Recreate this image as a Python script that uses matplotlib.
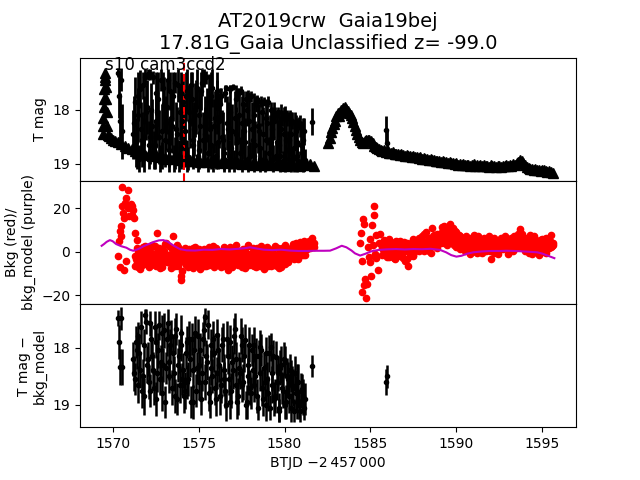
import matplotlib
matplotlib.use("Agg")
import matplotlib.pyplot as plt

# ---------------- detections (top: T mag, bottom: T mag - bkg_model) ----------------
t_det = [1570.33, 1570.37, 1570.41, 1570.50, 1570.55,
         1571.2, 1571.3, 1571.4, 1571.5, 1571.6, 1571.7, 1571.8, 1571.9, 1572.0, 1572.1,
         1572.2, 1572.3, 1572.4, 1572.5, 1572.6, 1572.7, 1572.8, 1572.9, 1573.0, 1573.1,
         1573.2, 1573.3, 1573.4, 1573.5, 1573.6, 1573.7, 1573.8, 1573.9, 1574.0, 1574.1,
         1574.2, 1574.3, 1574.4, 1574.5, 1574.6, 1574.7, 1574.8, 1574.9, 1575.0, 1575.1,
         1575.2, 1575.3, 1575.4, 1575.5, 1575.6, 1575.7, 1575.8, 1575.9, 1576.0, 1576.1,
         1576.2, 1576.3, 1576.4, 1576.5, 1576.6, 1576.7, 1576.8, 1576.9, 1577.0, 1577.1,
         1577.2, 1577.3, 1577.4, 1577.5, 1577.6, 1577.7, 1577.8, 1577.9, 1578.0, 1578.1,
         1578.2, 1578.3, 1578.4, 1578.5, 1578.6, 1578.7, 1578.8, 1578.9, 1579.0, 1579.1,
         1579.2, 1579.3, 1579.4, 1579.5, 1579.6, 1579.7, 1579.8, 1579.9, 1580.0, 1580.1,
         1580.2, 1580.3, 1580.4, 1580.5, 1580.6, 1580.7, 1580.8, 1580.9, 1581.0, 1581.1, 1581.2,
         1581.60, 1585.92, 1585.97]

mag_top = [17.32, 17.75, 18.20, 17.45, 18.40,
           18.45, 17.85, 18.70, 18.10, 17.62, 18.55, 18.20, 17.40, 17.95, 18.65,
           17.35, 18.30, 18.75, 17.70, 18.05, 18.50, 17.45, 18.85, 17.90, 18.25,
           17.45, 18.60, 18.15, 17.75, 18.80, 18.35, 17.55, 18.05, 18.70, 17.85,
           18.40, 17.65, 18.90, 18.20, 17.80, 18.55, 18.00, 17.60, 18.75, 18.30,
           17.50, 17.42, 18.45, 18.10, 17.85, 18.65, 17.60, 18.30, 18.85, 17.95,
           18.20, 17.75, 18.55, 18.90, 17.60, 18.35, 18.05, 18.70, 17.58, 18.15,
           18.45, 17.70, 18.80, 18.25, 17.90, 18.60, 18.00, 17.72, 18.85, 18.35,
           18.10, 18.65, 17.80, 18.40, 18.90, 18.05, 17.85, 18.55, 18.25, 18.80,
           18.00, 18.50, 18.20, 18.85, 18.05, 18.65, 18.35, 18.95, 18.08, 18.55,
           18.75, 18.15, 18.45, 18.90, 18.25, 18.60, 18.95, 18.30, 18.80, 18.55, 18.92,
           18.22, 18.37, 18.62]

err_top = [0.08, 0.40, 0.50, 0.20, 0.50,
           0.45, 0.45, 0.40, 0.50, 0.35, 0.50, 0.45, 0.15, 0.50, 0.45,
           0.10, 0.50, 0.35, 0.40, 0.50, 0.50, 0.20, 0.25, 0.50, 0.50,
           0.20, 0.45, 0.50, 0.45, 0.30, 0.50, 0.30, 0.50, 0.40, 0.50,
           0.50, 0.40, 0.22, 0.50, 0.50, 0.50, 0.50, 0.35, 0.35, 0.50,
           0.25, 0.17, 0.50, 0.50, 0.50, 0.45, 0.35, 0.50, 0.25, 0.50,
           0.50, 0.15, 0.50, 0.22, 0.05, 0.50, 0.50, 0.40, 0.05, 0.50,
           0.50, 0.10, 0.30, 0.50, 0.25, 0.45, 0.30, 0.08, 0.25, 0.50,
           0.40, 0.45, 0.08, 0.50, 0.22, 0.25, 0.08, 0.50, 0.40, 0.30,
           0.15, 0.50, 0.35, 0.25, 0.10, 0.45, 0.45, 0.18, 0.15, 0.50,
           0.35, 0.15, 0.40, 0.22, 0.20, 0.45, 0.18, 0.20, 0.30, 0.40, 0.20,
           0.25, 0.25, 0.22]

mag_bot = [17.49, 17.90, 18.34, 17.49, 18.34,
           18.20, 18.55, 18.05, 17.80, 18.40, 18.75, 17.95, 17.43, 18.30, 18.60,
           17.58, 18.15, 18.70, 17.90, 18.45, 17.61, 18.25, 18.80, 17.70, 18.35,
           17.58, 18.50, 17.80, 18.10, 18.85, 17.67, 18.30, 18.65, 17.95, 18.40,
           18.75, 17.90, 18.55, 18.20, 17.85, 18.95, 17.75, 18.35, 18.60, 18.05,
           18.45, 17.70, 17.46, 18.25, 18.80, 17.95, 18.50, 18.10, 18.90, 17.78,
           18.30, 18.65, 17.85, 18.55, 19.00, 18.15, 17.90, 18.75, 18.40, 17.67,
           18.20, 18.85, 18.45, 17.95, 18.60, 17.87, 18.95, 18.30, 18.70, 18.05,
           17.95, 18.50, 18.85, 18.15, 17.99, 18.70, 18.35, 19.00, 18.55, 18.10,
           17.99, 18.65, 18.90, 18.17, 18.45, 19.05, 18.30, 18.75, 18.25, 18.95,
           18.55, 18.40, 19.05, 18.70, 18.45, 18.95, 18.60, 19.10, 18.72, 18.85, 18.90,
           18.32, 18.60, 18.50]

err_bot = [0.14, 0.30, 0.32, 0.20, 0.32,
           0.30, 0.28, 0.32, 0.25, 0.30, 0.30, 0.28, 0.10, 0.32, 0.30,
           0.22, 0.30, 0.30, 0.28, 0.32, 0.25, 0.30, 0.30, 0.30, 0.28,
           0.25, 0.30, 0.28, 0.32, 0.30, 0.28, 0.30, 0.32, 0.28, 0.30,
           0.32, 0.28, 0.30, 0.32, 0.28, 0.30, 0.30, 0.28, 0.32, 0.30,
           0.30, 0.28, 0.15, 0.32, 0.30, 0.28, 0.30, 0.32, 0.30, 0.28,
           0.30, 0.32, 0.28, 0.30, 0.28, 0.32, 0.30, 0.30, 0.32, 0.28,
           0.30, 0.32, 0.28, 0.30, 0.32, 0.28, 0.30, 0.32, 0.30, 0.28,
           0.30, 0.32, 0.30, 0.28, 0.30, 0.32, 0.28, 0.28, 0.30, 0.32,
           0.25, 0.32, 0.30, 0.28, 0.30, 0.25, 0.32, 0.30, 0.28, 0.30,
           0.30, 0.28, 0.25, 0.32, 0.30, 0.30, 0.32, 0.20, 0.25, 0.30, 0.28,
           0.19, 0.22, 0.20]

# second interleaved set of detections
t_det2 = [1571.25, 1571.35, 1571.45, 1571.55, 1571.65, 1571.75, 1571.85, 1571.95, 1572.05, 1572.15,
          1572.25, 1572.35, 1572.45, 1572.55, 1572.65, 1572.75, 1572.85, 1572.95, 1573.05, 1573.15,
          1573.25, 1573.35, 1573.45, 1573.55, 1573.65, 1573.75, 1573.85, 1573.95, 1574.05, 1574.15,
          1574.25, 1574.35, 1574.45, 1574.55, 1574.65, 1574.75, 1574.85, 1574.95, 1575.05, 1575.15,
          1575.25, 1575.35, 1575.45, 1575.55, 1575.65, 1575.75, 1575.85, 1575.95, 1576.05, 1576.15,
          1576.25, 1576.35, 1576.45, 1576.55, 1576.65, 1576.75, 1576.85, 1576.95, 1577.05, 1577.15,
          1577.25, 1577.35, 1577.45, 1577.55, 1577.65, 1577.75, 1577.85, 1577.95, 1578.05, 1578.15,
          1578.25, 1578.35, 1578.45, 1578.55, 1578.65, 1578.75, 1578.85, 1578.95, 1579.05, 1579.15,
          1579.25, 1579.35, 1579.45, 1579.55, 1579.65, 1579.75, 1579.85, 1579.95, 1580.05, 1580.15,
          1580.25, 1580.35, 1580.45, 1580.55, 1580.65, 1580.75, 1580.85, 1580.95, 1581.05, 1581.15]

mag_top2 = [18.25, 18.60, 17.75, 18.90, 18.35, 17.55, 18.80, 18.05, 17.35, 18.50,
            18.00, 17.40, 18.65, 18.20, 17.80, 18.90, 18.40, 17.60, 18.55, 17.95,
            18.75, 17.65, 18.30, 18.90, 17.50, 18.45, 18.85, 17.70, 18.20, 18.60,
            17.75, 18.85, 18.05, 17.55, 18.65, 18.35, 17.95, 18.85, 18.10, 17.65,
            18.55, 18.25, 17.40, 18.80, 18.35, 17.75, 18.90, 18.15, 17.65, 18.60,
            17.90, 18.50, 18.80, 17.70, 18.25, 18.85, 17.62, 18.40, 18.95, 17.80,
            18.60, 18.10, 17.65, 18.75, 18.40, 17.80, 18.90, 18.20, 17.75, 18.55,
            18.85, 17.90, 18.30, 18.70, 17.85, 18.45, 18.95, 18.15, 17.85, 18.60,
            18.35, 18.90, 18.10, 18.60, 18.25, 18.85, 18.15, 18.45, 18.90, 18.15,
            18.55, 18.95, 18.20, 18.70, 18.40, 18.85, 18.25, 18.65, 18.90, 18.40]

err_top2 = [0.50, 0.45, 0.45, 0.25, 0.50, 0.25, 0.35, 0.50, 0.10, 0.50,
            0.50, 0.12, 0.45, 0.50, 0.50, 0.25, 0.50, 0.30, 0.50, 0.50,
            0.40, 0.35, 0.50, 0.25, 0.20, 0.50, 0.30, 0.40, 0.50, 0.45,
            0.45, 0.30, 0.50, 0.25, 0.45, 0.50, 0.50, 0.30, 0.50, 0.35,
            0.50, 0.50, 0.12, 0.35, 0.50, 0.45, 0.25, 0.50, 0.35, 0.50,
            0.30, 0.50, 0.35, 0.15, 0.50, 0.30, 0.08, 0.50, 0.20, 0.25,
            0.50, 0.50, 0.08, 0.40, 0.50, 0.15, 0.25, 0.50, 0.10, 0.50,
            0.30, 0.15, 0.50, 0.45, 0.10, 0.50, 0.20, 0.35, 0.10, 0.50,
            0.40, 0.25, 0.15, 0.50, 0.25, 0.30, 0.15, 0.50, 0.25, 0.15,
            0.50, 0.20, 0.15, 0.45, 0.30, 0.30, 0.12, 0.45, 0.25, 0.25]

mag_bot2 = [18.45, 17.90, 18.65, 18.10, 17.65, 18.50, 18.85, 17.55, 18.20, 18.75,
            17.85, 18.40, 17.65, 18.90, 18.05, 18.55, 17.75, 18.30, 18.95, 17.85,
            18.25, 17.95, 18.70, 18.45, 17.80, 18.90, 18.15, 17.75, 18.55, 18.85,
            18.10, 18.60, 17.85, 18.95, 18.40, 18.05, 18.75, 17.80, 18.30, 18.90,
            17.85, 18.60, 18.15, 17.60, 18.95, 18.35, 17.85, 18.70, 18.45, 18.05,
            18.85, 17.95, 18.40, 18.75, 17.85, 18.55, 18.95, 18.25, 17.80, 18.65,
            18.95, 18.35, 17.80, 18.65, 18.15, 19.00, 18.50, 17.95, 18.80, 18.40,
            18.65, 18.15, 19.05, 18.45, 18.05, 18.90, 18.60, 18.10, 18.80, 19.05,
            18.45, 18.15, 18.85, 18.60, 19.10, 18.35, 18.70, 18.20, 19.00, 18.50,
            18.85, 18.50, 18.65, 19.10, 18.80, 18.60, 19.00, 18.75, 18.90, 19.05]

err_bot2 = [0.30, 0.28, 0.32, 0.30, 0.28, 0.30, 0.32, 0.22, 0.30, 0.28,
            0.30, 0.32, 0.28, 0.30, 0.30, 0.28, 0.32, 0.30, 0.28, 0.30,
            0.32, 0.28, 0.30, 0.30, 0.32, 0.28, 0.30, 0.32, 0.28, 0.30,
            0.28, 0.30, 0.32, 0.28, 0.30, 0.32, 0.28, 0.30, 0.30, 0.28,
            0.30, 0.32, 0.28, 0.25, 0.28, 0.30, 0.32, 0.30, 0.28, 0.30,
            0.32, 0.30, 0.28, 0.30, 0.32, 0.28, 0.30, 0.30, 0.32, 0.28,
            0.30, 0.28, 0.32, 0.30, 0.28, 0.25, 0.32, 0.30, 0.28, 0.30,
            0.30, 0.32, 0.22, 0.30, 0.28, 0.30, 0.32, 0.28, 0.30, 0.22,
            0.30, 0.28, 0.30, 0.32, 0.20, 0.30, 0.28, 0.30, 0.25, 0.32,
            0.30, 0.28, 0.32, 0.20, 0.30, 0.32, 0.25, 0.30, 0.28, 0.22]

# ---------------- upper limits (triangles, top panel) ----------------
t_lim = [1569.41, 1569.43, 1569.45, 1569.47, 1569.49, 1569.51, 1569.53, 1569.55, 1569.58,
         1569.61, 1569.64, 1569.67, 1569.70, 1569.73, 1569.80, 1569.90, 1570.00, 1570.15,
         1570.30, 1570.50, 1570.70, 1570.90, 1571.10,
         1571.3, 1571.5, 1571.7, 1571.9, 1572.1, 1572.3, 1572.5, 1572.7, 1572.9, 1573.1,
         1573.3, 1573.5, 1573.7, 1573.9, 1574.1, 1574.3, 1574.5, 1574.7, 1574.9, 1575.1,
         1575.3, 1575.5, 1575.7, 1575.9, 1576.1, 1576.3, 1576.5, 1576.7, 1576.9, 1577.1,
         1577.3, 1577.5, 1577.7, 1577.9, 1578.1, 1578.3, 1578.5, 1578.7, 1578.9, 1579.1,
         1579.3, 1579.5, 1579.7, 1579.9, 1580.1, 1580.3, 1580.5, 1580.7, 1580.9, 1581.1,
         1581.3, 1581.5, 1581.7,
         1582.55, 1582.62, 1582.70, 1582.78, 1582.86, 1582.94, 1583.02, 1583.10, 1583.17,
         1583.23, 1583.30, 1583.38, 1583.45, 1583.52, 1583.60, 1583.68, 1583.76, 1583.84,
         1583.91, 1584.00, 1584.08, 1584.16, 1584.24, 1584.32, 1584.40, 1584.49, 1584.58,
         1584.67, 1584.76, 1584.85, 1584.94, 1585.03, 1585.12, 1585.21, 1585.30, 1585.40, 1585.50,
         1585.6, 1585.7, 1585.8, 1585.9, 1586.0, 1586.1, 1586.2, 1586.3, 1586.4, 1586.5,
         1586.6, 1586.7, 1586.8, 1586.9, 1587.0, 1587.1, 1587.2, 1587.3, 1587.4, 1587.5,
         1587.6, 1587.7, 1587.8, 1587.9, 1588.0, 1588.1, 1588.2, 1588.3, 1588.4, 1588.5,
         1588.6, 1588.7, 1588.8, 1588.9, 1589.0, 1589.1, 1589.2, 1589.3, 1589.4, 1589.5,
         1589.6, 1589.7, 1589.8, 1589.9, 1590.0, 1590.1, 1590.2, 1590.3, 1590.4, 1590.5,
         1590.6, 1590.7, 1590.8, 1590.9, 1591.0, 1591.1, 1591.2, 1591.3, 1591.4, 1591.5,
         1591.6, 1591.7, 1591.8, 1591.9, 1592.0, 1592.1, 1592.2, 1592.3, 1592.4, 1592.5,
         1592.6, 1592.7, 1592.8, 1592.9, 1593.0, 1593.1, 1593.2, 1593.3, 1593.4, 1593.5,
         1593.6, 1593.7, 1593.8, 1593.9, 1594.0, 1594.1, 1594.2, 1594.3, 1594.4, 1594.5,
         1594.6, 1594.7, 1594.8, 1594.9, 1595.0, 1595.1, 1595.2, 1595.3, 1595.4, 1595.5, 1595.6]

mag_lim = [18.45, 18.30, 18.15, 17.95, 17.80, 17.62, 17.45, 17.33, 17.40,
           17.58, 17.80, 18.05, 18.30, 18.46, 18.48, 18.52, 18.55, 18.58,
           18.60, 18.63, 18.66, 18.70, 18.72,
           18.76, 18.80, 18.78, 18.84, 18.82, 18.86, 18.83, 18.88, 18.85, 18.90,
           18.87, 18.91, 18.89, 18.93, 18.90, 18.94, 18.92, 18.95, 18.93, 18.96,
           18.94, 18.97, 18.95, 18.93, 18.96, 18.98, 18.95, 18.97, 18.99, 18.96,
           18.98, 19.00, 18.97, 18.99, 19.01, 18.98, 19.00, 19.02, 18.99, 19.01,
           19.00, 19.02, 18.99, 19.01, 19.03, 19.00, 19.02, 19.01, 19.03, 19.00,
           19.02, 19.00, 19.03,
           18.62, 18.52, 18.42, 18.33, 18.26, 18.20, 18.12, 18.06, 18.12,
           18.05, 18.00, 17.97, 17.99, 17.95, 17.98, 18.02, 18.06, 18.10,
           18.15, 18.22, 18.30, 18.38, 18.45, 18.51, 18.56, 18.60, 18.61,
           18.58, 18.56, 18.55, 18.56, 18.58, 18.62, 18.66, 18.69, 18.71, 18.73,
           18.74, 18.76, 18.75, 18.78, 18.77, 18.79, 18.80, 18.78, 18.81, 18.82,
           18.81, 18.83, 18.82, 18.84, 18.85, 18.83, 18.86, 18.85, 18.87, 18.86,
           18.88, 18.87, 18.89, 18.88, 18.90, 18.89, 18.91, 18.90, 18.92, 18.91,
           18.93, 18.92, 18.94, 18.95, 18.94, 18.96, 18.95, 18.97, 18.96, 18.98,
           18.97, 18.99, 18.98, 19.00, 18.99, 19.01, 19.00, 19.02, 19.00, 19.01,
           19.02, 19.01, 19.03, 19.02, 19.00, 19.03, 19.02, 19.04, 19.01, 19.03,
           19.02, 19.04, 19.03, 19.05, 19.02, 19.04, 19.03, 19.05, 19.04, 19.03,
           19.05, 19.03, 19.04, 19.02, 19.04, 19.01, 19.03, 19.00, 19.02, 18.99,
           18.96, 18.93, 18.95, 18.98, 19.02, 19.05, 19.08, 19.10, 19.09, 19.11,
           19.10, 19.12, 19.11, 19.13, 19.12, 19.11, 19.13, 19.14, 19.13, 19.15, 19.17]

# ---------------- background (red) and background model (purple) ----------------
t_spk1 = [1570.33, 1570.38, 1570.42, 1570.42, 1570.46, 1570.50, 1570.52, 1570.56, 1570.60,
          1570.65, 1570.68, 1570.70, 1570.75, 1570.80, 1570.87, 1570.92, 1570.98, 1571.05,
          1571.10, 1571.15, 1571.20, 1571.26, 1571.32, 1571.40, 1571.45]
bkg_spk1 = [-1.8, 5.0, -7.1, 9.5, 12.0, 7.0, 21.0, 29.7, 18.0,
            15.6, -8.6, 22.5, -4.1, 24.7, 28.2, 20.0, 16.5, 22.0,
            21.0, 17.0, 19.0, 15.6, 8.8, 5.5, 1.0]

t_bkg1 = [1571.3, 1571.4, 1571.5, 1571.6, 1571.7, 1571.8, 1571.9, 1572.0, 1572.1, 1572.2,
          1572.3, 1572.4, 1572.5, 1572.6, 1572.7, 1572.8, 1572.9, 1573.0, 1573.1, 1573.2,
          1573.3, 1573.4, 1573.5, 1573.6, 1573.7, 1573.8, 1573.9, 1574.0, 1574.1, 1574.2,
          1574.3, 1574.4, 1574.5, 1574.6, 1574.7, 1574.8, 1574.9, 1575.0, 1575.1, 1575.2,
          1575.3, 1575.4, 1575.5, 1575.6, 1575.7, 1575.8, 1575.9, 1576.0, 1576.1, 1576.2,
          1576.3, 1576.4, 1576.5, 1576.6, 1576.7, 1576.8, 1576.9, 1577.0, 1577.1, 1577.2,
          1577.3, 1577.4, 1577.5, 1577.6, 1577.7, 1577.8, 1577.9, 1578.0, 1578.1, 1578.2,
          1578.3, 1578.4, 1578.5, 1578.6, 1578.7, 1578.8, 1578.9, 1579.0, 1579.1, 1579.2,
          1579.3, 1579.4, 1579.5, 1579.6, 1579.7, 1579.8, 1579.9, 1580.0, 1580.1, 1580.2,
          1580.3, 1580.4, 1580.5, 1580.6, 1580.7, 1580.8, 1580.9, 1581.0, 1581.1, 1581.2,
          1581.3, 1581.4, 1581.5, 1581.6, 1581.7]
bkg1_a = [-6.5, 1.5, -3.0, -8.0, 0.5, -4.5, 2.5, -1.0, -7.0, -2.5,
          3.0, -5.5, -0.5, 8.5, -3.5, -6.0, 1.0, -2.0, 4.0, -4.0,
          -1.5, -7.5, 7.3, 0.0, -3.0, 2.0, -5.0, -11.4, -1.0, 1.5,
          -4.5, -2.0, -6.5, 0.5, -3.5, 2.0, -5.5, -1.0, -8.0, -2.5,
          1.0, -4.0, -1.5, -6.0, 0.0, -3.0, -7.0, 1.5, -2.0, -4.5,
          -0.5, -5.5, 2.0, -3.0, -8.5, -1.0, 0.5, -4.0, -2.5, 3.0,
          -6.0, -1.5, -3.5, 1.0, -7.5, -2.0, 2.5, -4.5, -0.5, -6.5,
          -2.0, 1.5, -5.0, -3.0, 0.0, -8.0, -1.5, 2.0, -4.0, -2.5,
          0.5, -6.0, -3.5, 1.5, -2.0, -7.0, -1.0, 3.0, -4.5, -0.5,
          1.0, -2.5, 3.5, -1.0, 2.0, -3.5, 4.5, 0.5, 2.5, -1.5,
          3.5, 5.0, 1.5, 6.5, 4.0]
bkg1_b = [-2.0, -5.0, 0.5, -3.5, -6.0, -1.0, -4.0, 1.0, -5.5, 0.0,
          -3.0, -1.0, -6.5, -2.5, 1.5, -4.5, -7.0, 0.5, -3.0, -5.0,
          2.5, -3.5, -1.0, -5.5, 1.0, -6.5, -2.0, -13.2, 0.0, -4.0,
          0.5, -7.0, -2.5, -4.5, 1.5, -6.0, -2.0, -3.5, 0.0, -5.0,
          -6.5, -0.5, -3.0, 2.0, -5.0, -2.0, -1.0, -5.5, 0.5, -3.5,
          -7.0, -2.0, -4.0, 0.0, -2.5, -6.0, -3.5, 1.0, -5.5, -1.5,
          0.0, -4.0, -7.0, -2.5, 0.5, -5.0, -3.0, -1.0, -6.0, -3.5,
          -5.5, -3.0, 0.5, -6.5, -2.5, -1.0, -5.0, -3.5, 1.0, -6.5,
          -4.0, -1.0, -5.5, -2.5, -7.5, 0.0, -4.0, -2.0, -1.5, -5.0,
          -3.0, 0.0, -1.5, 2.5, -2.0, 1.0, -0.5, 3.5, 0.0, 2.0,
          1.0, 2.5, 4.5, 3.0, 2.0]

t_bkg1c = [1571.35, 1571.45, 1571.55, 1571.65, 1571.75, 1571.85, 1571.95, 1572.05, 1572.15, 1572.25,
           1572.35, 1572.45, 1572.55, 1572.65, 1572.75, 1572.85, 1572.95, 1573.05, 1573.15, 1573.25,
           1573.35, 1573.45, 1573.55, 1573.65, 1573.75, 1573.85, 1573.95, 1574.05, 1574.15, 1574.25,
           1574.35, 1574.45, 1574.55, 1574.65, 1574.75, 1574.85, 1574.95, 1575.05, 1575.15, 1575.25,
           1575.35, 1575.45, 1575.55, 1575.65, 1575.75, 1575.85, 1575.95, 1576.05, 1576.15, 1576.25,
           1576.35, 1576.45, 1576.55, 1576.65, 1576.75, 1576.85, 1576.95, 1577.05, 1577.15, 1577.25,
           1577.35, 1577.45, 1577.55, 1577.65, 1577.75, 1577.85, 1577.95, 1578.05, 1578.15, 1578.25,
           1578.35, 1578.45, 1578.55, 1578.65, 1578.75, 1578.85, 1578.95, 1579.05, 1579.15, 1579.25,
           1579.35, 1579.45, 1579.55, 1579.65, 1579.75, 1579.85, 1579.95, 1580.05, 1580.15, 1580.25,
           1580.35, 1580.45, 1580.55, 1580.65, 1580.75, 1580.85, 1580.95, 1581.05, 1581.15, 1581.25,
           1581.35, 1581.45, 1581.55, 1581.65]
bkg1_c = [-3.5, -7.0, 0.0, -2.0, 2.0, -5.5, -1.5, -4.0, 1.5, -6.0,
          -1.0, 2.5, -4.5, -2.0, -7.5, 0.5, -3.0, 3.5, -5.0, -1.5,
          -4.5, 1.0, -2.5, -6.5, 3.0, -1.0, -4.0, -9.0, -2.0, -6.0,
          -1.5, 1.0, -4.0, -7.5, -2.0, -0.5, -6.5, 1.0, -3.0, -5.5,
          -2.5, -6.5, 0.5, -4.0, -1.5, 2.5, -5.0, -3.0, -6.0, 0.0,
          -3.0, 1.0, -6.5, -1.5, -4.5, 2.0, -7.0, -2.0, 0.0, -4.5,
          -2.5, -5.5, 0.5, -4.0, -1.5, 3.0, -6.0, -2.0, 1.5, -4.0,
          -7.0, -0.5, -3.5, 2.5, -5.5, -2.0, 0.5, -6.5, -1.0, -3.5,
          -2.0, 2.5, -6.5, -1.0, -4.5, 1.5, -3.0, -5.5, 0.5, -2.5,
          -0.5, 2.0, -3.5, 4.0, 0.0, -2.0, 3.0, -1.5, 5.0, 1.0,
          4.5, 2.0, 5.5, 3.0]

t_spk2 = [1584.40, 1584.45, 1584.50, 1584.53, 1584.55, 1584.60, 1584.65, 1584.70, 1584.75,
          1584.80, 1584.85, 1584.90, 1584.95, 1585.00, 1585.05, 1585.10, 1585.15, 1585.20,
          1585.20, 1585.25, 1585.30, 1585.35, 1585.42, 1585.50, 1585.58, 1585.65]
bkg_spk2 = [4.2, 8.5, -4.1, -18.5, 14.9, 12.6, -15.5, -12.4, -21.5,
            -14.7, 2.0, -2.5, -4.8, 6.0, -11.4, 12.1, 3.0, 20.9,
            16.7, -1.0, 7.5, -3.0, -8.6, 4.0, 8.0, 1.5]

t_bkg2 = [1585.7, 1585.8, 1585.9, 1586.0, 1586.1, 1586.2, 1586.3, 1586.4, 1586.5, 1586.6,
          1586.7, 1586.8, 1586.9, 1587.0, 1587.1, 1587.2, 1587.3, 1587.4, 1587.5, 1587.6,
          1587.7, 1587.8, 1587.9, 1588.0, 1588.1, 1588.2, 1588.3, 1588.4, 1588.5, 1588.6,
          1588.7, 1588.8, 1588.9, 1589.0, 1589.1, 1589.2, 1589.3, 1589.4, 1589.5, 1589.6,
          1589.7, 1589.8, 1589.9, 1590.0, 1590.1, 1590.2, 1590.3, 1590.4, 1590.5, 1590.6,
          1590.7, 1590.8, 1590.9, 1591.0, 1591.1, 1591.2, 1591.3, 1591.4, 1591.5, 1591.6,
          1591.7, 1591.8, 1591.9, 1592.0, 1592.1, 1592.2, 1592.3, 1592.4, 1592.5, 1592.6,
          1592.7, 1592.8, 1592.9, 1593.0, 1593.1, 1593.2, 1593.3, 1593.4, 1593.5, 1593.6,
          1593.7, 1593.8, 1593.9, 1594.0, 1594.1, 1594.2, 1594.3, 1594.4, 1594.5, 1594.6,
          1594.7, 1594.8, 1594.9, 1595.0, 1595.1, 1595.2, 1595.3, 1595.4, 1595.5, 1595.6]
bkg2_a = [2.5, -1.0, 4.0, 0.5, -2.5, 3.0, 1.0, -3.5, 5.0, 0.0,
          -2.0, 3.5, 1.5, -4.5, 2.0, -6.4, 0.5, 4.5, -1.5, 2.5,
          5.5, 1.0, 3.5, 7.0, 0.5, 4.0, 2.0, 6.5, -0.5, 11.0,
          3.0, 5.5, 1.5, 7.5, 4.0, 9.5, 12.0, 6.0, 10.5, 12.6,
          8.0, 11.0, 5.5, 9.0, 3.5, 7.0, 4.5, 1.5, 6.0, 2.5,
          5.0, -1.0, 3.5, 7.5, 1.0, 4.5, 2.0, 6.0, -0.5, 3.0,
          5.5, 1.5, 4.0, -3.3, 2.5, 6.5, 0.0, 3.5, 5.0, 1.0,
          4.0, 7.0, 2.0, -1.0, 5.5, 3.0, 0.5, 6.0, 2.5, 8.0,
          10.3, 4.5, 1.5, 6.5, 3.0, -0.5, 5.0, 2.0, 7.0, 1.0,
          4.0, -1.5, 5.5, 2.5, 0.0, 6.5, 3.0, 1.5, 7.5, 4.2]
bkg2_b = [-1.5, 5.5, 1.0, 3.0, 6.0, -0.5, 4.0, 2.0, -1.0, 3.5,
          5.0, 0.0, -3.0, 2.5, 4.0, 1.0, -2.0, 3.0, 6.0, 0.5,
          2.0, 6.5, 4.5, 1.5, 8.0, 3.0, 5.0, 0.5, 4.0, 6.0,
          7.5, 2.5, 6.0, 4.0, 8.5, 6.5, 4.0, 10.0, 7.0, 5.0,
          4.5, 6.5, 9.5, 2.0, 6.0, 1.0, 3.5, 6.5, 0.5, 4.5,
          2.0, 4.5, 0.0, 3.0, 6.0, -0.5, 5.0, 1.0, 4.0, 6.5,
          0.5, 4.5, 7.0, 2.0, 5.0, -0.5, 3.5, 1.5, 4.0, 6.5,
          1.0, 3.5, 5.5, 4.0, 0.5, 6.5, 3.5, 1.5, 4.5, 2.0,
          5.5, 8.0, 3.0, 0.5, 5.0, 2.5, 7.5, -1.0, 4.0, 5.5,
          1.0, 5.0, 2.0, 6.0, 3.5, -0.5, 4.5, 5.5, 2.0, 3.0]

t_bkg2c = [1585.75, 1585.85, 1585.95, 1586.05, 1586.15, 1586.25, 1586.35, 1586.45, 1586.55, 1586.65,
           1586.75, 1586.85, 1586.95, 1587.05, 1587.15, 1587.25, 1587.35, 1587.45, 1587.55, 1587.65,
           1587.75, 1587.85, 1587.95, 1588.05, 1588.15, 1588.25, 1588.35, 1588.45, 1588.55, 1588.65,
           1588.75, 1588.85, 1588.95, 1589.05, 1589.15, 1589.25, 1589.35, 1589.45, 1589.55, 1589.65,
           1589.75, 1589.85, 1589.95, 1590.05, 1590.15, 1590.25, 1590.35, 1590.45, 1590.55, 1590.65,
           1590.75, 1590.85, 1590.95, 1591.05, 1591.15, 1591.25, 1591.35, 1591.45, 1591.55, 1591.65,
           1591.75, 1591.85, 1591.95, 1592.05, 1592.15, 1592.25, 1592.35, 1592.45, 1592.55, 1592.65,
           1592.75, 1592.85, 1592.95, 1593.05, 1593.15, 1593.25, 1593.35, 1593.45, 1593.55, 1593.65,
           1593.75, 1593.85, 1593.95, 1594.05, 1594.15, 1594.25, 1594.35, 1594.45, 1594.55, 1594.65,
           1594.75, 1594.85, 1594.95, 1595.05, 1595.15, 1595.25, 1595.35, 1595.45, 1595.55]
bkg2_c = [1.0, 3.5, -2.5, 5.0, 0.5, 2.5, -3.0, 4.5, 1.5, -1.5,
          2.5, -1.0, 4.5, 0.5, -3.5, 3.0, 1.5, -2.0, 2.0, 4.0,
          3.5, 0.5, 6.0, 2.5, 4.5, 9.0, 1.5, 5.5, 3.0, 7.0,
          5.0, 8.0, 3.5, 6.5, 11.5, 5.0, 8.5, 3.0, 9.0, 6.0,
          6.5, 3.0, 8.0, 4.5, 7.5, 2.0, 5.5, 3.0, 7.0, 1.5,
          3.5, 6.5, 1.0, 5.0, 2.5, 7.0, 0.0, 3.5, 5.5, 1.5,
          3.0, 6.0, 0.5, 4.5, 2.0, 5.5, 3.0, -1.0, 4.5, 2.5,
          6.0, 2.5, 4.0, 0.0, 5.0, 3.0, 7.0, 1.5, 4.5, 6.5,
          3.0, 6.0, 2.0, 5.0, 0.5, 4.0, 6.5, 2.5, 4.5, 0.0,
          3.0, 5.5, 1.0, 4.5, 6.0, 2.0, 3.5, 5.0, 2.5]

t_model = [1569.36, 1569.5, 1569.65, 1569.84, 1570.0, 1570.2, 1570.5, 1570.8, 1571.0, 1571.2,
           1571.5, 1571.8, 1572.1, 1572.4, 1572.7, 1572.95, 1573.2, 1573.5, 1573.9, 1574.3,
           1574.8, 1575.3, 1575.8, 1576.3, 1576.8, 1577.3, 1577.7, 1578.0, 1578.4, 1578.8,
           1579.3, 1579.8, 1580.3, 1580.8, 1581.3, 1581.8, 1582.3, 1582.65, 1583.0, 1583.33,
           1583.6, 1583.9, 1584.1, 1584.4, 1584.7, 1585.0, 1585.17, 1585.5, 1585.95, 1586.5,
           1587.0, 1587.5, 1588.0, 1588.5, 1589.05, 1589.4, 1589.7, 1590.0, 1590.3, 1590.6,
           1591.0, 1591.5, 1592.0, 1592.5, 1592.9, 1593.4, 1593.9, 1594.3, 1594.7, 1595.0,
           1595.3, 1595.7]
bkg_model = [2.7, 3.5, 4.5, 5.3, 4.8, 3.5, 2.5, 1.8, 0.9, 0.4,
             1.2, 2.5, 3.5, 4.5, 5.2, 5.3, 4.6, 3.0, 1.2, 0.6,
             0.5, 0.9, 0.8, 1.2, 1.0, 1.3, 1.6, 2.0, 1.4, 0.9,
             0.7, 0.9, 0.5, 0.3, 0.3, 0.4, 0.4, 0.45, 1.5, 2.7,
             2.0, 0.5, -0.8, -1.8, -1.0, 0.0, 0.4, 0.8, 1.05, 1.2,
             1.0, 1.2, 1.1, 1.3, 0.8, -0.3, -1.6, -2.3, -1.9, -1.0,
             -0.3, 0.1, 0.3, 0.3, 0.4, 0.3, 0.1, -0.1, -0.3, -0.9,
             -1.8, -3.0]

flag_time = 1574.15
title = "AT2019crw  Gaia19bej\n17.81G_Gaia Unclassified z= -99.0"
sector_label = "s10 cam3ccd2"

# ---------------- figure ----------------
fig, (ax1, ax2, ax3) = plt.subplots(3, 1, sharex=True, figsize=(6.4, 4.8), dpi=100)
fig.subplots_adjust(hspace=0)

ax1.plot(t_lim, mag_lim, 'k^', ms=7)
ax1.errorbar(t_det, mag_top, yerr=err_top, fmt='k.', ms=6, elinewidth=2)
ax1.errorbar(t_det2, mag_top2, yerr=err_top2, fmt='k.', ms=6, elinewidth=2)
ax1.axvline(flag_time, color='r', ls='--', lw=1.5)
ax1.text(0.05, 0.9, sector_label, transform=ax1.transAxes, fontsize=12, va='baseline')
ax1.set_ylim(19.31, 17.04)
ax1.set_yticks([18, 19])
ax1.set_ylabel("T mag")
ax1.set_title(title, fontsize=14)

for tt, vv in [(t_spk1, bkg_spk1), (t_bkg1, bkg1_a), (t_bkg1, bkg1_b), (t_bkg1c, bkg1_c),
               (t_spk2, bkg_spk2), (t_bkg2, bkg2_a), (t_bkg2, bkg2_b), (t_bkg2c, bkg2_c)]:
    ax2.plot(tt, vv, 'r.', ms=9)
ax2.plot(t_model, bkg_model, color='m', lw=1.5)
ax2.set_ylim(-24.1, 32.6)
ax2.set_yticks([-20, 0, 20])
ax2.set_ylabel("Bkg (red)/\nbkg_model (purple)")

ax3.errorbar(t_det, mag_bot, yerr=err_bot, fmt='k.', ms=6, elinewidth=1.8)
ax3.errorbar(t_det2, mag_bot2, yerr=err_bot2, fmt='k.', ms=6, elinewidth=1.8)
ax3.set_ylim(19.39, 17.24)
ax3.set_yticks([18, 19])
ax3.set_ylabel("T mag \u2212\nbkg_model")
ax3.set_xlim(1568.10, 1596.96)
ax3.set_xlabel("BTJD \u22122\u2009457\u2009000")

fig.savefig("out.png", dpi=100)
